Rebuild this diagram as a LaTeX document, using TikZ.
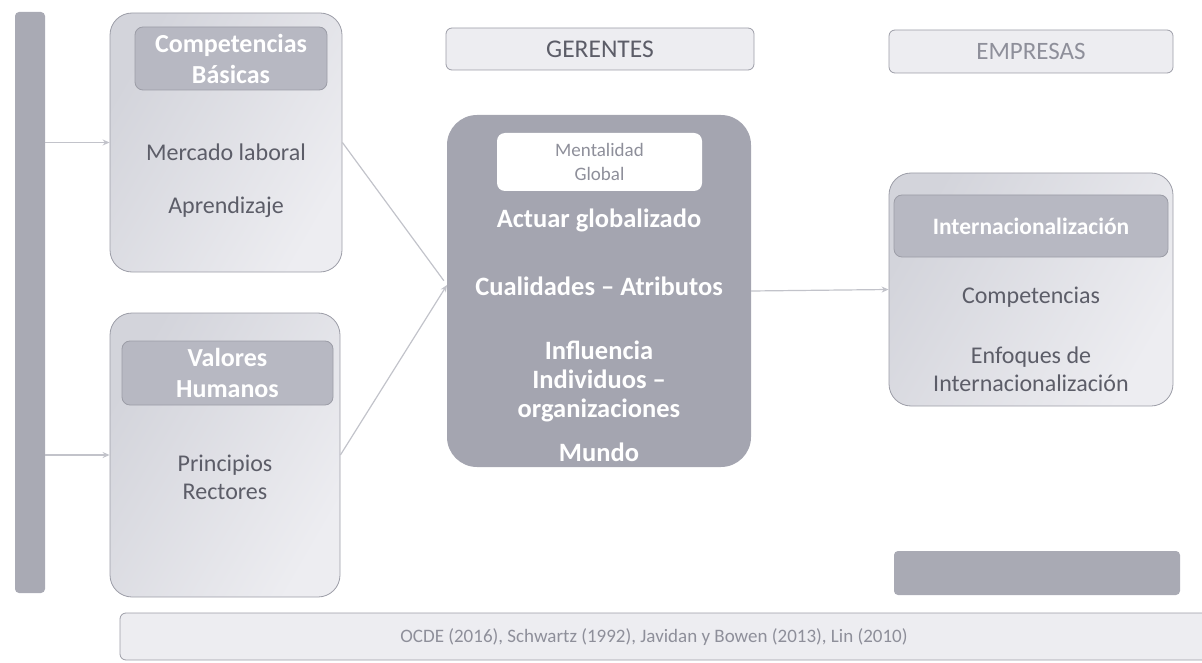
\documentclass[tikz,border=0pt]{standalone}
\usepackage{fontspec}
\setmainfont{Carlito}
\usetikzlibrary{arrows.meta,calc}
\definecolor{barfill}{HTML}{A9AAB4}
\definecolor{centerfill}{HTML}{A4A5B0}
\definecolor{headfill}{HTML}{B7B8C2}
\definecolor{lightL}{HTML}{D3D4DB}
\definecolor{lightR}{HTML}{EDEDF1}
\definecolor{edgecol}{HTML}{9C9DA7}
\definecolor{txtcol}{HTML}{5C5D68}
\definecolor{ligtxt}{HTML}{8E8F9A}
\definecolor{arrcol}{HTML}{C2C3CA}
\tikzset{
  outerbox/.style={draw=edgecol, line width=0.8pt, left color=lightL, right color=lightR, shading angle=60, rounded corners=22pt, inner sep=0pt},
  headbox/.style={draw=edgecol, line width=0.8pt, fill=headfill, rounded corners=8pt, inner sep=0pt},
  titlebox/.style={draw=edgecol, line width=0.8pt, fill=lightR, rounded corners=6pt, inner sep=0pt},
  darkbar/.style={fill=barfill, rounded corners=4pt, inner sep=0pt},
  headtxt/.style={text=white, font=\bfseries\fontsize{26}{31}\selectfont, align=center},
  bodytxt/.style={text=txtcol, font=\fontsize{24}{28}\selectfont, align=center},
  whitetxt/.style={text=white, font=\bfseries\fontsize{26.5}{29}\selectfont, align=center},
  conn/.style={draw=arrcol, line width=1.2pt},
  arr/.style={conn, -{Stealth[length=7pt,width=6pt]}}
}
\begin{document}
\begin{tikzpicture}[x=1pt,y=-1pt]
\useasboundingbox (0,0) rectangle (1202,663);
% left bar
\node[darkbar, minimum width=30pt, minimum height=581pt] (bar) at (30,302.5) {};
% Competencias box
\node[outerbox, minimum width=232pt, minimum height=259pt] (comp) at (226,142.5) {};
\node[headbox, minimum width=192pt, minimum height=63pt] (comph) at (231,58.5) {};
\node[headtxt] (compt) at (comph.center) {Competencias\\Básicas};
\node[bodytxt] (merc) at (226,152) {Mercado laboral};
\node[bodytxt] (apre) at (226,207) {Aprendizaje};
% Valores box
\node[outerbox, minimum width=230pt, minimum height=284pt] (val) at (225,455) {};
\node[headbox, minimum width=211pt, minimum height=64pt] (valh) at (227.5,373) {};
\node[headtxt] (valt) at (valh.center) {Valores\\Humanos};
\node[bodytxt] (prin) at (225,477) {Principios\\Rectores};
% titles
\node[titlebox, minimum width=308pt, minimum height=42pt] (ger) at (600,49) {};
\node[text=txtcol, font=\fontsize{25.5}{27}\selectfont] (gert) at (ger.center) {GERENTES};
\node[titlebox, minimum width=284pt, minimum height=43pt] (emp) at (1031,51.5) {};
\node[text=ligtxt, font=\fontsize{25}{27}\selectfont] (empt) at (emp.center) {EMPRESAS};
% center box
\node[fill=centerfill, rounded corners=30pt, minimum width=304pt, minimum height=352pt, inner sep=0pt] (cen) at (599,291) {};
\node[fill=white, rounded corners=8pt, minimum width=205pt, minimum height=58pt, inner sep=0pt] (ment) at (599.5,162) {};
\node[text=ligtxt, font=\fontsize{19}{24}\selectfont, align=center] (mentt) at (ment.center) {Mentalidad\\Global};
\node[whitetxt] (act) at (599,220) {Actuar globalizado};
\node[whitetxt] (cual) at (599,286) {Cualidades – Atributos};
\node[whitetxt] (infl) at (599,381) {Influencia\\Individuos –\\organizaciones};
\node[whitetxt] (mund) at (599,452) {Mundo};
% right box
\node[outerbox, minimum width=284pt, minimum height=233pt] (inte) at (1031,289.5) {};
\node[headbox, minimum width=274pt, minimum height=62pt] (inth) at (1031,226) {};
\node[text=white, font=\bfseries\fontsize{23.5}{26}\selectfont] (intt) at (inth.center) {Internacionalización};
\node[bodytxt] (compe) at (1031,297) {Competencias};
\node[bodytxt] (enfo) at (1031,369) {Enfoques de\\Internacionalización};
% bottom right bar
\node[darkbar, minimum width=286pt, minimum height=44pt] (brbar) at (1037,573) {};
% citation
\node[draw=edgecol, line width=0.8pt, fill=lightR, rounded corners=6pt, minimum width=1090pt, minimum height=47pt, inner sep=0pt] (cit) at (665,636.5) {};
\node[text=ligtxt, font=\fontsize{19}{22}\selectfont] (citt) at (654,637) {OCDE (2016), Schwartz (1992), Javidan y Bowen (2013), Lin (2010)};
% connectors
\draw[arr] (bar.east |- comp.west) -- (comp.west);
\draw[arr] (bar.east |- val.west) -- (val.west);
\coordinate (conv) at (447,285);
\draw[conn] (comp.east) -- ($(comp.east)!0.97!(conv)$);
\draw[arr] (val.east) -- (conv);
\draw[arr] (cen.east) -- (inte.west);
\end{tikzpicture}
\end{document}
